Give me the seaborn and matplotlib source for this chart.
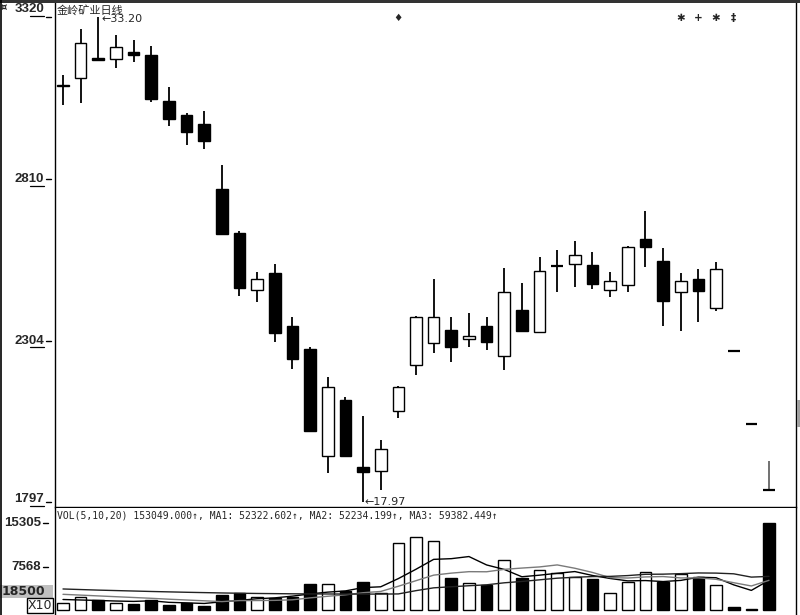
import numpy as np
import pandas as pd
import matplotlib
matplotlib.use("Agg")
import matplotlib.pyplot as plt
from matplotlib.lines import Line2D
from matplotlib.patches import Rectangle
import matplotlib.transforms as mtransforms
import seaborn as sns

# ---------------- data ----------------
title = "金岭矿业日线"
opens = [3102, 3128, 3190, 3188, 3210, 3201, 3056, 3012, 2984, 2780,
         2642, 2463, 2516, 2350, 2277, 1941, 2117, 1907, 1894, 2083,
         2227, 2296, 2337, 2309, 2350, 2255, 2400, 2331, 2538, 2544,
         2541, 2463, 2478, 2623, 2554, 2456, 2497, 2406, 2271, 2042, 1836]
highs = [3138, 3282, 3320, 3263, 3248, 3229, 3100, 3019, 3025, 2855,
         2648, 2519, 2544, 2378, 2284, 2190, 2127, 2067, 1992, 2160,
         2380, 2497, 2378, 2391, 2378, 2532, 2485, 2566, 2588, 2617,
         2582, 2519, 2600, 2711, 2595, 2516, 2529, 2551, 2271, 2042, 1926]
lows = [3044, 3050, 3185, 3160, 3179, 3053, 2978, 2918, 2905, 2637,
        2444, 2425, 2299, 2215, 2018, 1888, 1939, 1797, 1835, 2061,
        2196, 2265, 2237, 2284, 2274, 2212, 2332, 2329, 2456, 2472,
        2466, 2441, 2456, 2535, 2350, 2334, 2362, 2397, 2271, 2042, 1836]
closes = [3105, 3238, 3185, 3226, 3201, 3062, 3000, 2959, 2931, 2639,
          2469, 2497, 2328, 2246, 2020, 2158, 1941, 1891, 1963, 2158,
          2378, 2378, 2284, 2318, 2299, 2456, 2334, 2522, 2538, 2573,
          2482, 2491, 2598, 2598, 2428, 2491, 2460, 2529, 2271, 2042, 1836]
# volume in the axis unit (X10)
volume = [1230, 2230, 1760, 1230, 1120, 1760, 880, 1290, 700, 2580,
          3000, 2340, 2060, 2230, 4520, 4580, 3400, 4990, 2930, 11740,
          12800, 12100, 5600, 4800, 4350, 8850, 5650, 7000, 6460, 5870,
          5400, 3000, 4900, 6740, 5000, 6400, 5800, 4480, 450, 120, 15305]
# moving-average values before a full window exists
ma5_head = [1850, 1760, 1680, 1580]
ma10_head = [2760, 2620, 2480, 2340, 2200, 2060, 1900, 1760, 1620]
ma20_head = [3700, 3600, 3500, 3420, 3340, 3260, 3190, 3120, 3060, 3000,
             2950, 2910, 2880, 2850, 2830, 2820, 2810, 2800, 2800]
price_ticks = [3320, 2810, 2304, 1797]
vol_ticks = [15305, 7568]
high_label = "←33.20"
low_label = "←17.97"
vol_text = "VOL(5,10,20) 153049.000↑, MA1: 52322.602↑, MA2: 52234.199↑, MA3: 59382.449↑"
marker_days = [19, 35, 36, 37, 38]
marker_syms = ["♦", "✱", "+", "✱", "‡"]
cursor_label = "18500"
unit_label = "X10"

days = list(range(len(opens)))

# ---------------- figure ----------------
sns.set_style("white")
plt.rcParams["font.family"] = ["DejaVu Sans"]

W, H = 800, 615
fig = plt.figure(figsize=(W / 100, H / 100), dpi=100)
fig.patch.set_facecolor("white")


def fx(px):
    return px / W


def fy(py):
    return 1 - py / H


ax = fig.add_axes([fx(55), fy(507), (796 - 55) / W, (507 - 3) / H])
axv = fig.add_axes([fx(55), fy(615), (796 - 55) / W, (615 - 508) / H])

df = pd.DataFrame(dict(day=days, o=opens, h=highs, l=lows, c=closes, v=volume))
prev_close = df["c"].shift(1).fillna(df["c"])
df["vdir"] = np.where(df["c"] >= prev_close, "up", "down")

BW = 0.66
up = df["c"] > df["o"]
down = df["c"] < df["o"]
flat = df["c"] == df["o"]

wick_colors = ["#666666" if i == len(df) - 1 else "black" for i in df.index]
ax.vlines(df["day"], df["l"], df["h"], colors=wick_colors, linewidth=1.3, zorder=1)
ax.bar(df.loc[up, "day"], df.loc[up, "c"] - df.loc[up, "o"], bottom=df.loc[up, "o"],
       width=BW, facecolor="white", edgecolor="black", linewidth=1.0, zorder=2)
ax.bar(df.loc[down, "day"], df.loc[down, "o"] - df.loc[down, "c"], bottom=df.loc[down, "c"],
       width=BW, facecolor="black", edgecolor="black", linewidth=1.0, zorder=2)
ax.hlines(df.loc[flat, "c"], df.loc[flat, "day"] - BW / 2, df.loc[flat, "day"] + BW / 2,
          colors="black", linewidth=1.6, zorder=3)

# volume bars
sns.barplot(data=df, x="day", y="v", hue="vdir", hue_order=["up", "down"],
            palette={"up": "white", "down": "black"}, dodge=False, native_scale=True,
            width=BW, edgecolor="black", linewidth=1.0, saturation=1,
            errorbar=None, legend=False, ax=axv)

vs = df["v"].astype(float)
ma5 = vs.rolling(5).mean().to_numpy()
ma5[:4] = ma5_head
ma10 = vs.rolling(10).mean().to_numpy()
ma10[:9] = ma10_head
ma20 = vs.rolling(20).mean().to_numpy()
ma20[:19] = ma20_head
sns.lineplot(x=days, y=ma5, ax=axv, color="black", linewidth=1.0, zorder=4)
sns.lineplot(x=days, y=ma10, ax=axv, color="#7a7a7a", linewidth=1.0, zorder=4)
sns.lineplot(x=days, y=ma20, ax=axv, color="#222222", linewidth=1.0, zorder=4)

for a in (ax, axv):
    a.set_xlim(-0.453, 41.53)
    a.set_xticks([])
    a.set_yticks([])
    a.set_xlabel("")
    a.set_ylabel("")
    a.set_facecolor("white")
    for s in a.spines.values():
        s.set_color("black")
        s.set_linewidth(1.0)
ax.set_ylim(1781.3, 3364.0)
axv.set_ylim(-880, 17952)
ax.spines["top"].set_visible(False)
axv.spines["top"].set_visible(False)
axv.spines["bottom"].set_visible(False)


def ypx(a, v):
    d = a.transData.transform((0, v))
    return H - d[1]


# price axis labels
for k, v in enumerate(price_ticks):
    y = ypx(ax, v)
    if k == 0:
        ty = y - 8
    elif k == len(price_ticks) - 1:
        ty = y - 3
    else:
        ty = y
    fig.text(fx(44), fy(ty), f"{v}", ha="right", va="center", fontsize=9.5,
             fontweight="bold", family="Liberation Sans")
    fig.add_artist(Line2D([fx(46), fx(51)], [fy(y), fy(y)], color="black", lw=1.0))
    fig.add_artist(Line2D([fx(29.5), fx(44)], [fy(ty + 6.5), fy(ty + 6.5)], color="black", lw=0.9))

# volume axis labels
for v in vol_ticks:
    y = ypx(axv, v)
    fig.text(fx(41), fy(y), f"{v}", ha="right", va="center", fontsize=9.5,
             fontweight="bold", family="Liberation Sans")
    fig.add_artist(Line2D([fx(43), fx(48)], [fy(y), fy(y)], color="black", lw=1.0))

fig.add_artist(Rectangle((0, fy(598)), fx(53), (598 - 585) / H, facecolor="#c0c0c0",
                         edgecolor="none", transform=fig.transFigure))
fig.text(fx(1.5), fy(591.5), cursor_label, ha="left", va="center", fontsize=9,
         fontweight="bold", family="DejaVu Sans")
fig.add_artist(Rectangle((fx(27), fy(613)), (53 - 27) / W, 15 / H, facecolor="white",
                         edgecolor="black", linewidth=1.0, transform=fig.transFigure))
fig.text(fx(40), fy(605.5), unit_label, ha="center", va="center", fontsize=9,
         family="DejaVu Sans")

# frame pieces
fig.add_artist(Rectangle((0, fy(2.5)), 1, 2.5 / H, facecolor="#333333",
                         edgecolor="none", transform=fig.transFigure))
fig.add_artist(Line2D([fx(0.7), fx(0.7)], [0, 1], color="black", lw=1.2))
fig.add_artist(Rectangle((fx(797), fy(427)), 3 / W, 27 / H, facecolor="#a0a0a0",
                         edgecolor="none", transform=fig.transFigure))
fig.text(fx(1), fy(7), "¤", ha="left", va="center", fontsize=7, fontweight="bold")

# texts
fig.text(fx(57), fy(10), title, ha="left", va="center", fontsize=8,
         family=["Noto Sans CJK SC", "DejaVu Sans"])
fig.text(fx(57), fy(516), vol_text, ha="left", va="center", fontsize=7,
         family="DejaVu Sans Mono")
ax.annotate(high_label, xy=(2, 3320), xytext=(2.5, -1.5), textcoords="offset points",
            ha="left", va="center", fontsize=8, family="DejaVu Sans")
ax.annotate(low_label, xy=(17, 1797), xytext=(1, 0), textcoords="offset points",
            ha="left", va="center", fontsize=8, family="DejaVu Sans")

trans = mtransforms.blended_transform_factory(ax.transData, ax.transAxes)
for d, s in zip(marker_days, marker_syms):
    ax.text(d, 0.9702, s, transform=trans, ha="center", va="center", fontsize=7.5,
            fontweight="bold")

fig.savefig("out.png", dpi=100)
